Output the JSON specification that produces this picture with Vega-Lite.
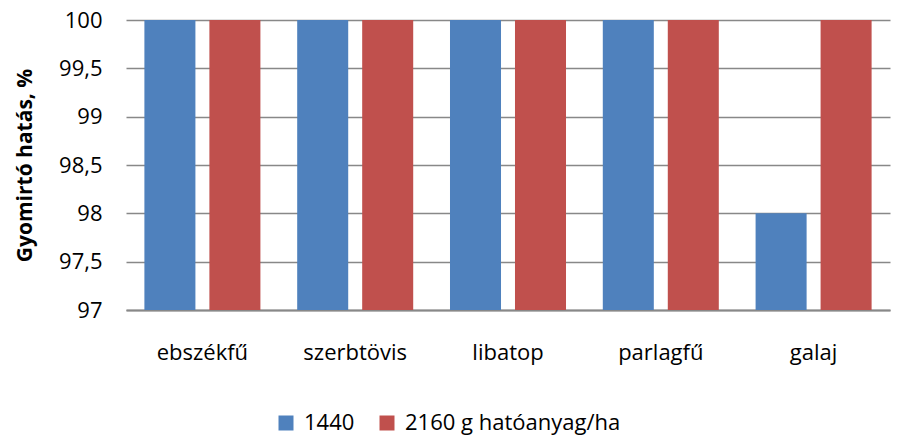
{
  "$schema": "https://vega.github.io/schema/vega-lite/v6.json",
  "width": 764,
  "height": 290,
  "autosize": {"type": "none"},
  "padding": {"left": 126, "top": 20, "right": 10, "bottom": 126},
  "config": {
    "view": {"stroke": null},
    "font": "Open Sans",
    "axis": {"labelFont": "Open Sans", "titleFont": "Open Sans", "labelColor": "#000", "titleColor": "#000"},
    "legend": {"labelFont": "Open Sans"}
  },
  "data": {
    "values": [
      {"gyom": "ebszékfű", "dozis": "1440", "hatas": 100},
      {"gyom": "ebszékfű", "dozis": "2160 g hatóanyag/ha", "hatas": 100},
      {"gyom": "szerbtövis", "dozis": "1440", "hatas": 100},
      {"gyom": "szerbtövis", "dozis": "2160 g hatóanyag/ha", "hatas": 100},
      {"gyom": "libatop", "dozis": "1440", "hatas": 100},
      {"gyom": "libatop", "dozis": "2160 g hatóanyag/ha", "hatas": 100},
      {"gyom": "parlagfű", "dozis": "1440", "hatas": 100},
      {"gyom": "parlagfű", "dozis": "2160 g hatóanyag/ha", "hatas": 100},
      {"gyom": "galaj", "dozis": "1440", "hatas": 98},
      {"gyom": "galaj", "dozis": "2160 g hatóanyag/ha", "hatas": 100}
    ]
  },
  "mark": {"type": "bar", "clip": true},
  "encoding": {
    "x": {
      "field": "gyom", "type": "nominal", "sort": null,
      "scale": {"paddingInner": 0, "paddingOuter": 0},
      "axis": {"title": null, "labelAngle": 0, "labelFontSize": 22, "labelPadding": 32, "ticks": false, "domainColor": "#888888", "domainWidth": 2}
    },
    "xOffset": {
      "field": "dozis", "type": "nominal", "sort": null,
      "scale": {"paddingInner": 0.215, "paddingOuter": 0.283}
    },
    "y": {
      "field": "hatas", "type": "quantitative",
      "scale": {"domain": [97, 100], "zero": false, "nice": false},
      "axis": {
        "title": "Gyomirtó hatás, %", "titleFontSize": 21, "titleFontWeight": "bold", "titlePadding": 23,
        "values": [97, 97.5, 98, 98.5, 99, 99.5, 100],
        "labelExpr": "replace(toString(datum.value), '.', ',')",
        "labelFontSize": 22, "labelPadding": 24, "ticks": false, "domain": false,
        "gridColor": "#888888", "gridWidth": 1.5
      }
    },
    "color": {
      "field": "dozis", "type": "nominal", "sort": null,
      "scale": {"range": ["#4F81BD", "#C0504D"]},
      "legend": {
        "title": null, "orient": "none", "legendX": 149, "legendY": 392, "direction": "horizontal",
        "symbolType": "square", "symbolSize": 225, "symbolStrokeWidth": 0, "labelFontSize": 22, "labelColor": "#000",
        "labelLimit": 400, "labelOffset": 7, "columnPadding": 21
      }
    }
  }
}
